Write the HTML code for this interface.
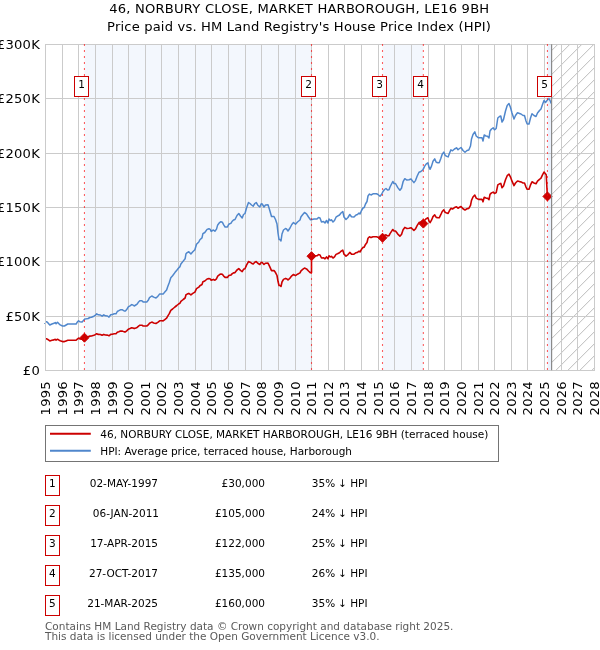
<!DOCTYPE html>
<html lang="en"><head><meta charset="utf-8"><title>46, NORBURY CLOSE, MARKET HARBOROUGH, LE16 9BH</title>
<style>html,body{margin:0;padding:0;background:#fff;}body{width:600px;height:650px;overflow:hidden;}svg{display:block;}text{font-family:"DejaVu Sans", "Liberation Sans", sans-serif;fill:#000;}</style></head><body>
<svg width="600" height="650" viewBox="0 0 600 650">
<rect width="600" height="650" fill="#fff"/>
<defs><clipPath id="clip"><rect x="45.60" y="44.30" width="548.79" height="326.00"/></clipPath></defs>
<rect x="84.45" y="44" width="227.05" height="327" fill="#f3f7fd"/>
<rect x="382.50" y="44" width="40.85" height="327" fill="#f3f7fd"/>
<rect x="547.45" y="44" width="4.15" height="327" fill="#ebf1fc"/>
<path d="M551.60,50.60 L557.90,44.30 M551.60,62.60 L569.90,44.30 M551.60,74.60 L581.90,44.30 M551.60,86.60 L593.90,44.30 M551.60,98.60 L594.39,55.81 M551.60,110.60 L594.39,67.81 M551.60,122.60 L594.39,79.81 M551.60,134.60 L594.39,91.81 M551.60,146.60 L594.39,103.81 M551.60,158.60 L594.39,115.81 M551.60,170.60 L594.39,127.81 M551.60,182.60 L594.39,139.81 M551.60,194.60 L594.39,151.81 M551.60,206.60 L594.39,163.81 M551.60,218.60 L594.39,175.81 M551.60,230.60 L594.39,187.81 M551.60,242.60 L594.39,199.81 M551.60,254.60 L594.39,211.81 M551.60,266.60 L594.39,223.81 M551.60,278.60 L594.39,235.81 M551.60,290.60 L594.39,247.81 M551.60,302.60 L594.39,259.81 M551.60,314.60 L594.39,271.81 M551.60,326.60 L594.39,283.81 M551.60,338.60 L594.39,295.81 M551.60,350.60 L594.39,307.81 M551.60,362.60 L594.39,319.81 M555.90,370.30 L594.39,331.81 M567.90,370.30 L594.39,343.81 M579.90,370.30 L594.39,355.81 M591.90,370.30 L594.39,367.81" stroke="#b4b4b4" stroke-width="0.9" fill="none"/>
<path d="M45.5,44 V371 M62.5,44 V371 M78.5,44 V371 M95.5,44 V371 M112.5,44 V371 M128.5,44 V371 M145.5,44 V371 M161.5,44 V371 M178.5,44 V371 M195.5,44 V371 M211.5,44 V371 M228.5,44 V371 M245.5,44 V371 M261.5,44 V371 M278.5,44 V371 M295.5,44 V371 M311.5,44 V371 M328.5,44 V371 M344.5,44 V371 M361.5,44 V371 M378.5,44 V371 M394.5,44 V371 M411.5,44 V371 M428.5,44 V371 M444.5,44 V371 M461.5,44 V371 M478.5,44 V371 M494.5,44 V371 M511.5,44 V371 M527.5,44 V371 M544.5,44 V371 M561.5,44 V371 M577.5,44 V371 M594.5,44 V371 M45,370.5 H595 M45,316.5 H595 M45,261.5 H595 M45,207.5 H595 M45,153.5 H595 M45,98.5 H595 M45,44.5 H595" stroke="#cbcbcb" stroke-width="1" fill="none" shape-rendering="crispEdges"/>
<path d="M46.0,321.7 L46.5,321.7 L47.8,322.7 L49.8,325.0 L51.9,324.0 L54.0,323.3 L55.2,322.5 L56.1,323.8 L57.5,322.3 L59.0,323.8 L60.2,324.8 L62.5,326.0 L64.4,326.0 L66.1,325.0 L67.8,324.0 L69.8,324.0 L72.3,324.0 L76.1,324.0 L77.3,322.1 L78.6,320.7 L79.8,321.8 L81.9,322.1 L83.2,320.8 L84.8,319.0 L86.5,318.8 L88.2,318.5 L89.8,317.5 L91.5,317.3 L93.8,316.2 L95.2,315.4 L96.7,313.8 L98.3,314.8 L100.4,315.0 L102.1,316.2 L103.8,314.8 L105.4,315.8 L107.5,316.0 L109.0,317.1 L110.7,314.8 L112.3,314.6 L114.2,313.8 L116.0,313.8 L117.3,311.5 L118.8,310.7 L120.4,309.8 L122.5,309.8 L124.2,311.0 L125.4,311.0 L126.7,309.6 L128.3,306.8 L130.0,305.8 L131.7,304.6 L132.9,305.0 L134.2,306.0 L135.8,305.0 L137.1,304.2 L138.3,302.3 L139.8,300.8 L141.9,300.8 L143.1,301.9 L146.8,301.9 L148.2,300.3 L149.5,297.6 L151.8,296.0 L153.7,297.1 L156.0,298.0 L157.8,296.4 L159.7,293.9 L161.6,293.9 L163.1,294.1 L164.8,292.0 L166.6,289.9 L167.6,286.9 L169.4,282.3 L170.8,277.7 L172.6,275.7 L174.9,272.6 L176.8,270.3 L178.6,268.0 L180.0,266.6 L180.9,264.0 L183.2,261.1 L185.1,258.8 L186.0,253.7 L187.2,252.6 L188.8,251.7 L190.9,254.0 L192.8,251.7 L194.9,249.7 L196.5,244.3 L198.8,242.0 L199.9,239.7 L202.0,237.9 L202.9,233.7 L204.8,232.5 L207.1,229.4 L208.9,228.8 L210.3,229.4 L211.2,231.4 L213.4,230.0 L214.9,231.2 L216.5,229.1 L217.7,224.9 L219.6,222.6 L220.9,221.7 L222.3,222.2 L223.7,224.9 L225.1,227.0 L227.4,227.0 L228.8,224.2 L231.1,223.1 L232.0,221.5 L233.5,220.0 L235.0,219.5 L237.0,215.5 L238.8,213.5 L240.5,216.0 L242.2,218.0 L243.5,214.5 L245.0,213.5 L246.5,208.0 L248.5,202.5 L250.0,203.5 L251.5,205.0 L253.2,206.2 L254.8,203.5 L256.2,202.5 L257.8,205.2 L259.8,207.0 L261.2,203.8 L262.2,204.0 L264.0,207.0 L265.5,205.0 L268.0,204.8 L269.5,209.5 L271.5,216.5 L274.0,216.5 L275.5,219.5 L277.0,224.0 L278.0,233.0 L279.0,239.5 L280.0,239.5 L281.0,241.0 L282.0,234.0 L283.5,230.0 L285.5,228.5 L286.5,229.0 L288.0,231.0 L290.0,228.0 L291.8,224.5 L293.5,222.5 L295.5,224.2 L297.5,222.0 L300.0,220.0 L301.0,216.8 L303.0,214.2 L304.5,212.5 L306.5,213.8 L308.5,217.0 L310.5,219.8 L312.0,219.5 L314.0,219.0 L317.0,219.0 L318.5,217.5 L320.0,218.0 L321.5,222.0 L323.5,221.5 L325.0,223.0 L326.5,220.5 L328.0,223.0 L329.0,219.0 L330.5,220.5 L331.5,219.8 L333.0,222.0 L334.5,220.5 L336.0,217.2 L337.5,216.2 L339.5,215.0 L341.0,213.0 L342.8,211.5 L344.0,217.0 L346.0,219.5 L348.0,217.5 L349.8,214.5 L351.5,216.8 L354.0,217.0 L356.0,215.0 L357.5,214.5 L359.0,213.0 L360.0,214.0 L361.5,210.5 L363.0,208.0 L364.2,207.5 L365.5,204.0 L367.0,201.5 L368.0,196.0 L369.5,194.0 L371.0,195.0 L373.0,193.8 L376.5,193.8 L378.0,194.5 L380.0,196.2 L381.5,194.5 L383.0,191.5 L384.5,189.5 L386.0,188.5 L387.5,190.0 L389.0,189.8 L390.0,187.0 L391.5,184.0 L392.8,181.5 L394.0,183.5 L395.5,183.5 L397.8,187.6 L399.9,190.3 L401.5,188.2 L403.1,181.7 L404.8,178.7 L406.9,180.1 L409.1,179.8 L411.0,179.0 L412.3,180.6 L413.9,182.6 L415.5,180.6 L417.1,176.3 L419.0,172.2 L420.9,171.5 L422.9,169.8 L424.7,166.1 L426.3,163.9 L427.9,162.8 L429.0,167.2 L430.1,169.3 L431.5,166.1 L433.0,161.2 L434.7,158.9 L436.2,162.3 L437.9,162.8 L439.2,162.8 L440.8,158.5 L442.2,154.2 L443.8,152.1 L445.1,155.3 L446.8,156.4 L448.1,156.9 L449.5,153.2 L450.9,149.9 L452.5,150.8 L454.5,149.0 L456.5,147.8 L458.0,149.8 L459.5,148.5 L461.0,147.5 L463.0,150.5 L465.0,152.2 L467.0,150.5 L468.8,150.0 L470.5,146.0 L471.5,139.0 L473.0,134.5 L474.8,131.8 L476.2,136.0 L478.5,137.8 L482.0,137.8 L483.0,141.0 L484.2,135.0 L486.0,136.0 L487.5,136.2 L489.0,138.0 L490.0,131.0 L491.5,129.0 L493.2,127.8 L494.5,129.8 L496.2,128.5 L497.8,118.0 L499.5,116.5 L500.8,116.0 L502.0,122.0 L503.5,119.5 L505.5,111.0 L507.2,105.5 L509.0,103.5 L510.5,107.5 L512.0,113.0 L514.0,119.0 L515.5,115.5 L517.5,112.8 L519.5,113.5 L521.0,114.0 L523.0,115.5 L524.5,115.5 L526.0,121.0 L527.2,124.0 L529.0,124.0 L530.5,118.0 L532.0,113.8 L534.0,115.5 L536.0,116.5 L537.5,113.0 L539.5,110.5 L541.0,109.0 L542.5,104.5 L544.0,100.5 L545.5,102.5 L547.0,100.5 L549.0,98.5 L550.5,101.5 L551.2,103.5" stroke="#5087cc" stroke-width="1.5" fill="none" stroke-linejoin="round" stroke-linecap="butt"/>
<path d="M46.0,338.8 L46.5,338.8 L47.8,339.4 L49.8,340.9 L51.9,340.3 L54.0,339.9 L55.2,339.3 L56.1,340.1 L57.5,339.2 L59.0,340.1 L60.2,340.8 L62.5,341.6 L64.4,341.6 L66.1,340.9 L67.8,340.3 L69.8,340.3 L72.3,340.3 L76.1,340.3 L77.3,339.1 L78.6,338.1 L79.8,338.9 L81.9,339.1 L83.2,338.2 L84.8,337.1 L86.5,336.9 L88.2,336.7 L89.8,336.1 L91.5,336.0 L93.8,335.3 L95.2,334.7 L96.7,333.7 L98.3,334.4 L100.4,334.5 L102.1,335.3 L103.8,334.4 L105.4,335.0 L107.5,335.1 L109.0,335.8 L110.7,334.4 L112.3,334.2 L114.2,333.7 L116.0,333.7 L117.3,332.2 L118.8,331.7 L120.4,331.1 L122.5,331.1 L124.2,331.9 L125.4,331.9 L126.7,330.9 L128.3,329.2 L130.0,328.5 L131.7,327.7 L132.9,328.0 L134.2,328.6 L135.8,328.0 L137.1,327.4 L138.3,326.3 L139.8,325.2 L141.9,325.2 L143.1,326.0 L146.8,326.0 L148.2,324.9 L149.5,323.2 L151.8,322.1 L153.7,322.9 L156.0,323.5 L157.8,322.4 L159.7,320.8 L161.6,320.8 L163.1,320.9 L164.8,319.6 L166.6,318.2 L167.6,316.3 L169.4,313.3 L170.8,310.3 L172.6,309.0 L174.9,307.0 L176.8,305.5 L178.6,304.0 L180.0,303.1 L180.9,301.4 L183.2,299.5 L185.1,298.0 L186.0,294.7 L187.2,294.1 L188.8,293.4 L190.9,294.9 L192.8,293.4 L194.9,292.1 L196.5,288.7 L198.8,287.2 L199.9,285.7 L202.0,284.5 L202.9,281.8 L204.8,281.0 L207.1,279.0 L208.9,278.6 L210.3,279.0 L211.2,280.3 L213.4,279.4 L214.9,280.2 L216.5,278.8 L217.7,276.1 L219.6,274.6 L220.9,274.0 L222.3,274.3 L223.7,276.1 L225.1,277.4 L227.4,277.4 L228.8,275.6 L231.1,274.9 L232.0,273.9 L233.5,272.9 L235.0,272.6 L237.0,270.0 L238.8,268.7 L240.5,270.3 L242.2,271.6 L243.5,269.3 L245.0,268.7 L246.5,265.1 L248.5,261.6 L250.0,262.2 L251.5,263.2 L253.2,264.0 L254.8,262.2 L256.2,261.6 L257.8,263.3 L259.8,264.5 L261.2,262.4 L262.2,262.5 L264.0,264.5 L265.5,263.2 L268.0,263.1 L269.5,266.1 L271.5,270.6 L274.0,270.6 L275.5,272.6 L277.0,275.5 L278.0,281.3 L279.0,285.5 L280.0,285.5 L281.0,286.5 L282.0,282.0 L283.5,279.4 L285.5,278.4 L286.5,278.7 L288.0,280.0 L290.0,278.1 L291.8,275.8 L293.5,274.5 L295.5,275.6 L297.5,274.2 L300.0,272.9 L301.0,270.8 L303.0,269.1 L304.5,268.1 L306.5,268.9 L308.5,271.0 L310.5,272.8 L311.5,272.6 L311.5,256.2 L312.0,256.1 L314.0,255.8 L317.0,255.8 L318.5,254.6 L320.0,255.0 L321.5,258.0 L323.5,257.7 L325.0,258.8 L326.5,256.9 L328.0,258.8 L329.0,255.8 L330.5,256.9 L331.5,256.4 L333.0,258.0 L334.5,256.9 L336.0,254.4 L337.5,253.7 L339.5,252.7 L341.0,251.2 L342.8,250.1 L344.0,254.2 L346.0,256.1 L348.0,254.6 L349.8,252.4 L351.5,254.1 L354.0,254.2 L356.0,252.7 L357.5,252.4 L359.0,251.2 L360.0,252.0 L361.5,249.3 L363.0,247.4 L364.2,247.1 L365.5,244.4 L367.0,242.5 L368.0,238.3 L369.5,236.8 L371.0,237.6 L373.0,236.7 L376.5,236.7 L378.0,237.2 L380.0,238.5 L381.5,237.2 L382.5,235.7 L382.5,237.7 L383.0,237.0 L384.5,235.5 L386.0,234.8 L387.5,235.9 L389.0,235.7 L390.0,233.6 L391.5,231.4 L392.8,229.5 L394.0,231.0 L395.5,231.0 L397.8,234.1 L399.9,236.1 L401.5,234.5 L403.1,229.7 L404.8,227.4 L406.9,228.5 L409.1,228.2 L411.0,227.7 L412.3,228.9 L413.9,230.3 L415.5,228.9 L417.1,225.7 L419.0,222.6 L420.9,222.0 L422.9,220.8 L423.4,220.1 L423.4,223.6 L424.7,220.2 L426.3,218.6 L427.9,217.8 L429.0,221.0 L430.1,222.6 L431.5,220.2 L433.0,216.6 L434.7,214.9 L436.2,217.4 L437.9,217.8 L439.2,217.8 L440.8,214.7 L442.2,211.5 L443.8,209.9 L445.1,212.3 L446.8,213.1 L448.1,213.5 L449.5,210.7 L450.9,208.3 L452.5,209.0 L454.5,207.6 L456.5,206.8 L458.0,208.2 L459.5,207.3 L461.0,206.5 L463.0,208.8 L465.0,210.0 L467.0,208.8 L468.8,208.4 L470.5,205.4 L471.5,200.3 L473.0,197.0 L474.8,195.0 L476.2,198.1 L478.5,199.4 L482.0,199.4 L483.0,201.8 L484.2,197.3 L486.0,198.1 L487.5,198.2 L489.0,199.6 L490.0,194.4 L491.5,192.9 L493.2,192.1 L494.5,193.5 L496.2,192.6 L497.8,184.9 L499.5,183.8 L500.8,183.4 L502.0,187.8 L503.5,186.0 L505.5,179.7 L507.2,175.7 L509.0,174.2 L510.5,177.1 L512.0,181.2 L514.0,185.6 L515.5,183.0 L517.5,181.0 L519.5,181.6 L521.0,181.9 L523.0,183.0 L524.5,183.0 L526.0,187.1 L527.2,189.3 L529.0,189.3 L530.5,184.9 L532.0,181.8 L534.0,183.0 L536.0,183.8 L537.5,181.2 L539.5,179.3 L541.0,178.2 L542.5,174.9 L544.0,172.0 L546.2,174.8 L547.4,196.4" stroke="#cc0000" stroke-width="1.6" fill="none" stroke-linejoin="round" stroke-linecap="butt"/>
<rect x="44" y="323" width="1" height="1" fill="#5087cc" fill-opacity="0.8"/>
<path d="M84.45,333.20 L88.95,337.70 L84.45,342.20 L79.95,337.70 Z" fill="#cc0000" stroke="#cc0000" stroke-width="1" stroke-linejoin="round"/>
<path d="M311.50,251.70 L316.00,256.20 L311.50,260.70 L307.00,256.20 Z" fill="#cc0000" stroke="#cc0000" stroke-width="1" stroke-linejoin="round"/>
<path d="M382.50,233.23 L387.00,237.73 L382.50,242.23 L378.00,237.73 Z" fill="#cc0000" stroke="#cc0000" stroke-width="1" stroke-linejoin="round"/>
<path d="M423.35,219.10 L427.85,223.60 L423.35,228.10 L418.85,223.60 Z" fill="#cc0000" stroke="#cc0000" stroke-width="1" stroke-linejoin="round"/>
<path d="M547.45,191.93 L551.95,196.43 L547.45,200.93 L542.95,196.43 Z" fill="#cc0000" stroke="#cc0000" stroke-width="1" stroke-linejoin="round"/>
<path d="M551.60,44.30 V370.30" stroke="#8a8a8a" stroke-width="1.2" fill="none"/>
<path d="M84.45,43.9 V370.5" stroke="#ff0000" stroke-opacity="0.62" stroke-width="1.1" stroke-dasharray="2.2,3.8" fill="none"/>
<path d="M311.50,43.9 V370.5" stroke="#ff0000" stroke-opacity="0.62" stroke-width="1.1" stroke-dasharray="2.2,3.8" fill="none"/>
<path d="M382.50,43.9 V370.5" stroke="#ff0000" stroke-opacity="0.62" stroke-width="1.1" stroke-dasharray="2.2,3.8" fill="none"/>
<path d="M423.35,43.9 V370.5" stroke="#ff0000" stroke-opacity="0.62" stroke-width="1.1" stroke-dasharray="2.2,3.8" fill="none"/>
<path d="M547.45,43.9 V370.5" stroke="#ff0000" stroke-opacity="0.62" stroke-width="1.1" stroke-dasharray="2.2,3.8" fill="none"/>
<rect x="74.5" y="76.5" width="14" height="20" fill="#fff" stroke="#cc0000" stroke-width="1" shape-rendering="crispEdges"/>
<text x="81.55" y="87.9" font-size="10.5" text-anchor="middle">1</text>
<rect x="301.5" y="76.5" width="14" height="20" fill="#fff" stroke="#cc0000" stroke-width="1" shape-rendering="crispEdges"/>
<text x="308.55" y="87.9" font-size="10.5" text-anchor="middle">2</text>
<rect x="372.5" y="76.5" width="14" height="20" fill="#fff" stroke="#cc0000" stroke-width="1" shape-rendering="crispEdges"/>
<text x="379.55" y="87.9" font-size="10.5" text-anchor="middle">3</text>
<rect x="413.5" y="76.5" width="14" height="20" fill="#fff" stroke="#cc0000" stroke-width="1" shape-rendering="crispEdges"/>
<text x="420.55" y="87.9" font-size="10.5" text-anchor="middle">4</text>
<rect x="537.5" y="76.5" width="14" height="20" fill="#fff" stroke="#cc0000" stroke-width="1" shape-rendering="crispEdges"/>
<text x="544.55" y="87.9" font-size="10.5" text-anchor="middle">5</text>
<text x="299.3" y="13" font-size="13.1" letter-spacing="0.21" text-anchor="middle">46, NORBURY CLOSE, MARKET HARBOROUGH, LE16 9BH</text>
<text x="299.1" y="30.7" font-size="13.1" letter-spacing="0.17" text-anchor="middle">Price paid vs. HM Land Registry's House Price Index (HPI)</text>
<text x="40.0" y="375.10" font-size="13.1" letter-spacing="0.25" text-anchor="end">£0</text>
<text x="40.0" y="321.10" font-size="13.1" letter-spacing="0.25" text-anchor="end">£50K</text>
<text x="40.0" y="266.10" font-size="13.1" letter-spacing="0.25" text-anchor="end">£100K</text>
<text x="40.0" y="212.10" font-size="13.1" letter-spacing="0.25" text-anchor="end">£150K</text>
<text x="40.0" y="158.10" font-size="13.1" letter-spacing="0.25" text-anchor="end">£200K</text>
<text x="40.0" y="103.10" font-size="13.1" letter-spacing="0.25" text-anchor="end">£250K</text>
<text x="40.0" y="49.10" font-size="13.1" letter-spacing="0.25" text-anchor="end">£300K</text>
<text transform="translate(49.90,415.4) rotate(-90)" font-size="13.1" letter-spacing="0.25">1995</text>
<text transform="translate(66.90,415.4) rotate(-90)" font-size="13.1" letter-spacing="0.25">1996</text>
<text transform="translate(82.90,415.4) rotate(-90)" font-size="13.1" letter-spacing="0.25">1997</text>
<text transform="translate(99.90,415.4) rotate(-90)" font-size="13.1" letter-spacing="0.25">1998</text>
<text transform="translate(116.90,415.4) rotate(-90)" font-size="13.1" letter-spacing="0.25">1999</text>
<text transform="translate(132.90,415.4) rotate(-90)" font-size="13.1" letter-spacing="0.25">2000</text>
<text transform="translate(149.90,415.4) rotate(-90)" font-size="13.1" letter-spacing="0.25">2001</text>
<text transform="translate(165.90,415.4) rotate(-90)" font-size="13.1" letter-spacing="0.25">2002</text>
<text transform="translate(182.90,415.4) rotate(-90)" font-size="13.1" letter-spacing="0.25">2003</text>
<text transform="translate(199.90,415.4) rotate(-90)" font-size="13.1" letter-spacing="0.25">2004</text>
<text transform="translate(215.90,415.4) rotate(-90)" font-size="13.1" letter-spacing="0.25">2005</text>
<text transform="translate(232.90,415.4) rotate(-90)" font-size="13.1" letter-spacing="0.25">2006</text>
<text transform="translate(249.90,415.4) rotate(-90)" font-size="13.1" letter-spacing="0.25">2007</text>
<text transform="translate(265.90,415.4) rotate(-90)" font-size="13.1" letter-spacing="0.25">2008</text>
<text transform="translate(282.90,415.4) rotate(-90)" font-size="13.1" letter-spacing="0.25">2009</text>
<text transform="translate(299.90,415.4) rotate(-90)" font-size="13.1" letter-spacing="0.25">2010</text>
<text transform="translate(315.90,415.4) rotate(-90)" font-size="13.1" letter-spacing="0.25">2011</text>
<text transform="translate(332.90,415.4) rotate(-90)" font-size="13.1" letter-spacing="0.25">2012</text>
<text transform="translate(348.90,415.4) rotate(-90)" font-size="13.1" letter-spacing="0.25">2013</text>
<text transform="translate(365.90,415.4) rotate(-90)" font-size="13.1" letter-spacing="0.25">2014</text>
<text transform="translate(382.90,415.4) rotate(-90)" font-size="13.1" letter-spacing="0.25">2015</text>
<text transform="translate(398.90,415.4) rotate(-90)" font-size="13.1" letter-spacing="0.25">2016</text>
<text transform="translate(415.90,415.4) rotate(-90)" font-size="13.1" letter-spacing="0.25">2017</text>
<text transform="translate(432.90,415.4) rotate(-90)" font-size="13.1" letter-spacing="0.25">2018</text>
<text transform="translate(448.90,415.4) rotate(-90)" font-size="13.1" letter-spacing="0.25">2019</text>
<text transform="translate(465.90,415.4) rotate(-90)" font-size="13.1" letter-spacing="0.25">2020</text>
<text transform="translate(482.90,415.4) rotate(-90)" font-size="13.1" letter-spacing="0.25">2021</text>
<text transform="translate(498.90,415.4) rotate(-90)" font-size="13.1" letter-spacing="0.25">2022</text>
<text transform="translate(515.90,415.4) rotate(-90)" font-size="13.1" letter-spacing="0.25">2023</text>
<text transform="translate(531.90,415.4) rotate(-90)" font-size="13.1" letter-spacing="0.25">2024</text>
<text transform="translate(548.90,415.4) rotate(-90)" font-size="13.1" letter-spacing="0.25">2025</text>
<text transform="translate(565.90,415.4) rotate(-90)" font-size="13.1" letter-spacing="0.25">2026</text>
<text transform="translate(581.90,415.4) rotate(-90)" font-size="13.1" letter-spacing="0.25">2027</text>
<text transform="translate(598.90,415.4) rotate(-90)" font-size="13.1" letter-spacing="0.25">2028</text>
<rect x="45.5" y="425.5" width="453" height="36" fill="#fff" stroke="#747474" stroke-width="1" shape-rendering="crispEdges"/>
<path d="M50,433.8 H90.8" stroke="#cc0000" stroke-width="2"/>
<path d="M50,450.8 H90.8" stroke="#5087cc" stroke-width="2"/>
<text x="100.3" y="438" font-size="10.5">46, NORBURY CLOSE, MARKET HARBOROUGH, LE16 9BH (terraced house)</text>
<text x="100.3" y="454.7" font-size="10.5">HPI: Average price, terraced house, Harborough</text>
<rect x="45.5" y="475.5" width="14" height="20" fill="#fff" stroke="#cc0000" stroke-width="1" shape-rendering="crispEdges"/>
<text x="52.4" y="487.00" font-size="10.5" text-anchor="middle">1</text>
<text x="158.0" y="487.00" font-size="10.5" text-anchor="end">02-MAY-1997</text>
<text x="265" y="487.00" font-size="10.5" text-anchor="end">£30,000</text>
<text x="311.8" y="487.00" font-size="10.5">35% <tspan dx="-0.4">↓ HPI</tspan></text>
<rect x="45.5" y="505.5" width="14" height="20" fill="#fff" stroke="#cc0000" stroke-width="1" shape-rendering="crispEdges"/>
<text x="52.4" y="517.00" font-size="10.5" text-anchor="middle">2</text>
<text x="159.0" y="517.00" font-size="10.5" text-anchor="end">06-JAN-2011</text>
<text x="265" y="517.00" font-size="10.5" text-anchor="end">£105,000</text>
<text x="311.8" y="517.00" font-size="10.5">24% <tspan dx="-0.4">↓ HPI</tspan></text>
<rect x="45.5" y="535.5" width="14" height="20" fill="#fff" stroke="#cc0000" stroke-width="1" shape-rendering="crispEdges"/>
<text x="52.4" y="547.00" font-size="10.5" text-anchor="middle">3</text>
<text x="158.0" y="547.00" font-size="10.5" text-anchor="end">17-APR-2015</text>
<text x="265" y="547.00" font-size="10.5" text-anchor="end">£122,000</text>
<text x="311.8" y="547.00" font-size="10.5">25% <tspan dx="-0.4">↓ HPI</tspan></text>
<rect x="45.5" y="565.5" width="14" height="20" fill="#fff" stroke="#cc0000" stroke-width="1" shape-rendering="crispEdges"/>
<text x="52.4" y="577.00" font-size="10.5" text-anchor="middle">4</text>
<text x="158.0" y="577.00" font-size="10.5" text-anchor="end">27-OCT-2017</text>
<text x="265" y="577.00" font-size="10.5" text-anchor="end">£135,000</text>
<text x="311.8" y="577.00" font-size="10.5">26% <tspan dx="-0.4">↓ HPI</tspan></text>
<rect x="45.5" y="595.5" width="14" height="20" fill="#fff" stroke="#cc0000" stroke-width="1" shape-rendering="crispEdges"/>
<text x="52.4" y="607.00" font-size="10.5" text-anchor="middle">5</text>
<text x="158.0" y="607.00" font-size="10.5" text-anchor="end">21-MAR-2025</text>
<text x="265" y="607.00" font-size="10.5" text-anchor="end">£160,000</text>
<text x="311.8" y="607.00" font-size="10.5">35% <tspan dx="-0.4">↓ HPI</tspan></text>
<text x="45" y="629.7" font-size="10.5" style="fill:#5a5a5a">Contains HM Land Registry data © Crown copyright and database right 2025.</text>
<text x="45" y="639.7" font-size="10.5" style="fill:#5a5a5a">This data is licensed under the Open Government Licence v3.0.</text>
</svg></body></html>
